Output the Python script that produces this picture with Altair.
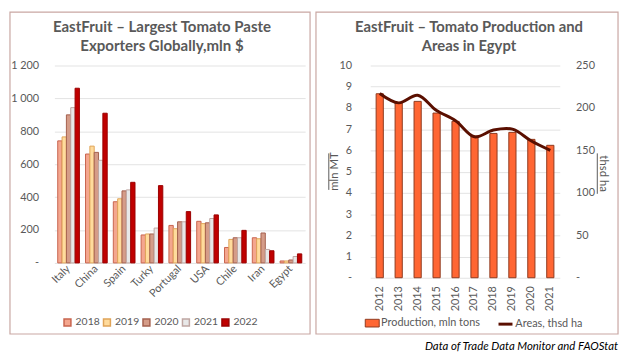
import altair as alt
import pandas as pd

FONT = "Lato"
GREY = "#595959"

# ---- Left chart data ----
countries = ["Italy", "China", "Spain", "Turky", "Portugal", "USA", "Chile", "Iran", "Egypt"]
years = ["2018", "2019", "2020", "2021", "2022"]
v2018 = [742, 662, 372, 170, 228, 253, 94, 153, 12]
v2019 = [766, 710, 390, 176, 208, 239, 143, 147, 12]
v2020 = [900, 672, 438, 176, 250, 244, 153, 182, 18]
v2021 = [944, 624, 444, 212, 250, 270, 153, 82, 39]
v2022 = [1062, 910, 490, 470, 312, 292, 198, 74, 55]
fills = ["#F4A68E", "#FFDB9C", "#D59C88", "#E8E8E8", "#C00000"]
strokes = ["#C8644E", "#E0A458", "#A4604E", "#BFA6A2", "#9A0000"]

# ---- Right chart data ----
prod_years = ["2012", "2013", "2014", "2015", "2016", "2017", "2018", "2019", "2020", "2021"]
production = [8.67, 8.23, 8.31, 7.76, 7.37, 6.68, 6.80, 6.85, 6.52, 6.24]
areas = [217, 206, 215, 197, 185, 166, 174, 175, 161, 150]

rows = []
for yr, vals in zip(years, [v2018, v2019, v2020, v2021, v2022]):
    for c, v in zip(countries, vals):
        rows.append({"country": c, "year": yr, "value": v})
left_df = pd.DataFrame(rows)

right_df = pd.DataFrame({
    "year": prod_years,
    "production": production,
    "areas": areas,
    "pl": ["Production, mln tons"] * len(prod_years),
    "al": ["Areas, thsd ha"] * len(prod_years),
})
dummy = pd.DataFrame({"a": [0]})

W1, H1 = 254, 200
W2, H2 = 192, 215

leg_common = dict(
    orient="none", direction="horizontal", title=None,
    labelFont=FONT, labelColor=GREY,
)

left_leg = dict(legendX=8, legendY=255, symbolType="square", symbolSize=49,
                columnPadding=0, labelOffset=3, labelFontSize=10.5, **leg_common)

left_bars = alt.Chart(left_df).mark_bar(strokeWidth=1).encode(
    x=alt.X("country:N", sort=countries,
            scale=alt.Scale(paddingInner=0.22, paddingOuter=0.12),
            axis=alt.Axis(title=None, labelAngle=-45, labelAlign="right", labelBaseline="middle",
                          labelPadding=4, ticks=False, domain=False,
                          labelFont=FONT, labelFontSize=11, labelColor=GREY)),
    xOffset=alt.XOffset("year:N", sort=years),
    y=alt.Y("value:Q", scale=alt.Scale(domain=[0, 1200]),
            axis=alt.Axis(title=None, values=[0, 200, 400, 600, 800, 1000, 1200],
                          labelExpr="datum.value == 0 ? '-' : replace(format(datum.value, ','), ',', ' ')",
                          ticks=False, domain=False, grid=True, gridColor="#E3E3E3",
                          labelPadding=16, labelFont=FONT, labelFontSize=11, labelColor=GREY)),
    color=alt.Color("year:N", scale=alt.Scale(domain=years, range=fills),
                    legend=alt.Legend(**left_leg)),
    stroke=alt.Stroke("year:N", scale=alt.Scale(domain=years, range=strokes),
                      legend=alt.Legend(**left_leg)),
)

left_box = alt.Chart(dummy).mark_rect(filled=False, stroke="#C9A7A3", strokeWidth=1.2).encode(
    x=alt.value(-45), x2=alt.value(W1 + 5), y=alt.value(-54), y2=alt.value(H1 + 72))

left_title = alt.Chart(dummy).mark_text(
    text=["EastFruit \u2013 Largest Tomato Paste", "Exporters Globally,mln $"],
    font=FONT, fontSize=15.2, fontWeight="bold", color=GREY, align="center",
    baseline="alphabetic", lineHeight=19).encode(x=alt.value(109), y=alt.value(-34))

left = alt.layer(left_box, left_bars, left_title).properties(width=W1, height=H1)

# ---- Right chart ----
base = alt.Chart(right_df).encode(
    x=alt.X("year:N", sort=prod_years,
            scale=alt.Scale(paddingInner=0.62, paddingOuter=0.31),
            axis=alt.Axis(title=None, labelAngle=-90, labelAlign="right", labelBaseline="middle",
                          labelPadding=8, ticks=False, domain=False,
                          labelFont=FONT, labelFontSize=11, labelColor=GREY)))

right_bars = base.mark_bar(stroke="#8E3A1E", strokeWidth=1).encode(
    y=alt.Y("production:Q", scale=alt.Scale(domain=[0, 10]),
            axis=alt.Axis(title=None, orient="left", values=list(range(0, 11)),
                          labelExpr="datum.value == 0 ? '-' : datum.label",
                          ticks=False, domain=False, grid=True, gridColor="#E3E3E3",
                          labelPadding=19, labelFont=FONT, labelFontSize=11, labelColor=GREY)),
    color=alt.Color("pl:N", scale=alt.Scale(domain=["Production, mln tons"], range=["#FF6633"]),
                    legend=alt.Legend(legendX=-6, legendY=253,
                                      symbolType="M-1,-0.55L1,-0.55L1,0.55L-1,0.55Z",
                                      symbolSize=200, symbolStrokeColor="#8E3A1E",
                                      symbolStrokeWidth=1, labelOffset=1, labelFontSize=11,
                                      **leg_common)),
)

right_line = base.mark_line(interpolate="catmull-rom", strokeWidth=3).encode(
    y=alt.Y("areas:Q", scale=alt.Scale(domain=[0, 250]),
            axis=alt.Axis(title=None, orient="right", values=[0, 50, 100, 150, 200, 250],
                          labelExpr="datum.value == 0 ? '-' : datum.label",
                          ticks=False, domain=False, grid=False,
                          labelPadding=16, labelFont=FONT, labelFontSize=11, labelColor=GREY)),
    stroke=alt.Stroke("al:N", scale=alt.Scale(domain=["Areas, thsd ha"], range=["#5A0F00"]),
                      legend=alt.Legend(legendX=128, legendY=253, symbolType="stroke",
                                        symbolSize=200, symbolStrokeWidth=3, labelOffset=1,
                                        labelFontSize=11, **leg_common)),
)

right_box = alt.Chart(dummy).mark_rect(filled=False, stroke="#C9A7A3", strokeWidth=1.2).encode(
    x=alt.value(-55), x2=alt.value(W2 + 59), y=alt.value(-54), y2=alt.value(H2 + 57))

# axis titles (underlined, as in the original)
ytitle_left = alt.Chart(dummy).mark_text(
    text="mln MT", angle=270, font=FONT, fontSize=11.5, color=GREY, align="center",
    baseline="middle").encode(x=alt.value(-36), y=alt.value(H2 / 2))
ytitle_right = alt.Chart(dummy).mark_text(
    text="thsd ha", angle=90, font=FONT, fontSize=11.5, color=GREY, align="center",
    baseline="middle").encode(x=alt.value(236), y=alt.value(H2 / 2 + 2))
ul_left = alt.Chart(dummy).mark_rule(color=GREY, strokeWidth=1).encode(
    x=alt.value(-42), y=alt.value(89), y2=alt.value(126))
ul_right = alt.Chart(dummy).mark_rule(color=GREY, strokeWidth=1).encode(
    x=alt.value(230), y=alt.value(89), y2=alt.value(130))

right_title = alt.Chart(dummy).mark_text(
    text=["EastFruit \u2013 Tomato Production and", "Areas in Egypt"],
    font=FONT, fontSize=15, fontWeight="bold", color=GREY, align="center",
    baseline="alphabetic", lineHeight=19).encode(x=alt.value(100), y=alt.value(-34))

source = alt.Chart(dummy).mark_text(
    text="Data of Trade Data Monitor and FAOStat", font=FONT, fontSize=11.5, fontStyle="italic",
    color="#000000", align="right", baseline="middle").encode(
    x=alt.value(W2 + 59), y=alt.value(H2 + 70))

right = alt.layer(right_box, right_bars, right_line, ytitle_left, ytitle_right, ul_left, ul_right,
                  right_title, source).resolve_scale(
    y="independent", color="independent", stroke="independent").properties(width=W2, height=H2)

chart = alt.hconcat(left, right, spacing=2).resolve_scale(
    color="independent", stroke="independent").properties(padding=0).configure_view(
    stroke="transparent")

chart.save("out.html", embed_options={"renderer": "svg", "actions": False})
